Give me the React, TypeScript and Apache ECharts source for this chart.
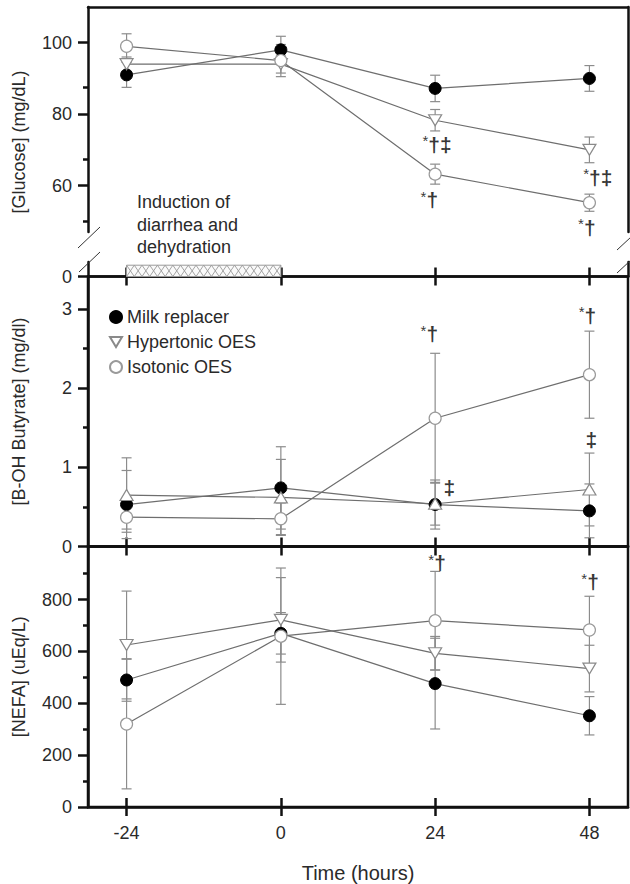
import React, { useEffect, useRef } from "react";
import * as echarts from "echarts";

// ---------- data ----------
const times = [-24, 0, 24, 48];
const groupNames = ["Milk replacer", "Hypertonic OES", "Isotonic OES"];

const glucoseMilk = [91, 98, 87.2, 90];
const glucoseMilkSE = [3.5, 3.8, 3.7, 3.6];
const glucoseHyper = [94, 94, 78.3, 70];
const glucoseHyperSE = [2, 2.5, 3, 3.6];
const glucoseIso = [99, 95, 63.2, 55.2];
const glucoseIsoSE = [3.5, 4.5, 2.8, 2.4];

const bhbMilk = [0.53, 0.74, 0.53, 0.45];
const bhbMilkSE = [0.43, 0.52, 0.31, 0.34];
const bhbHyper = [0.65, 0.62, 0.54, 0.72];
const bhbHyperSE = [0.47, 0.48, 0.27, 0.46];
const bhbIso = [0.37, 0.35, 1.62, 2.17];
const bhbIsoSE = [0.15, 0.2, 0.82, 0.55];

const nefaMilk = [490, 670, 476, 352];
const nefaMilkSE = [82, 80, 175, 74];
const nefaHyper = [625, 722, 593, 534];
const nefaHyperSE = [208, 163, 65, 90];
const nefaIso = [320, 659, 719, 683];
const nefaIsoSE = [250, 263, 190, 130];

const glucoseTicks = [60, 80, 100];
const glucoseMinor = [50, 67.5, 87.5];
const glucoseBreakTicks = [0];
const bhbTicks = [0, 1, 2, 3];
const bhbMinor = [0.5, 1.5, 2.5];
const nefaTicks = [0, 200, 400, 600, 800];
const nefaMinor = [100, 300, 500, 700, 900];

const inductionPeriod = [-24, 0];
const inductionText = "Induction of\ndiarrhea and\ndehydration";

const glucoseNotes: [number, number, string][] = [
  [24.3, 71.6, "*†‡"],
  [23.1, 56, "*†"],
  [49.3, 62.4, "*†‡"],
  [47.6, 48.3, "*†"],
];
const bhbNotes: [number, number, string][] = [
  [23.1, 2.69, "*†"],
  [26.2, 0.745, "‡"],
  [47.7, 2.92, "*†"],
  [48.3, 1.35, "‡"],
];
const nefaNotes: [number, number, string][] = [
  [24.3, 943, "*†"],
  [48.1, 869, "*†"],
];

// ---------- styles ----------
const FONT = '"Liberation Sans", Arial, Helvetica, sans-serif';
const INK = "#111";
const TXT = "#2a2a2a";
const AW = 2.5;
const X_MIN = -30;
const X_MAX = 54;
const LINE_COLOR = "#6e6e6e";
const ERR_COLOR = "#8c8c8c";

const markerStyles = [
  { symbol: "circle", size: 12, itemStyle: { color: "#000", borderColor: "#000", borderWidth: 1 } },
  { symbol: "triangle", size: [13, 11], itemStyle: { color: "#fff", borderColor: "#8a8a8a", borderWidth: 1.2 } },
  { symbol: "circle", size: 12, itemStyle: { color: "#fff", borderColor: "#9a9a9a", borderWidth: 1.2 } },
];

function errorBars(xi: number, yi: number, vals: number[], se: number[]) {
  return {
    type: "custom",
    xAxisIndex: xi,
    yAxisIndex: yi,
    z: 2,
    encode: { x: 0, y: [1, 2] },
    data: times.map((t, i) => [t, vals[i] - se[i], vals[i] + se[i]]),
    renderItem: (_p: any, api: any) => {
      const x = api.value(0);
      const lo = api.coord([x, api.value(1)]);
      const hi = api.coord([x, api.value(2)]);
      const cw = 5;
      const style = { stroke: ERR_COLOR, lineWidth: 1.2, fill: null };
      return {
        type: "group",
        children: [
          { type: "line", shape: { x1: lo[0], y1: lo[1], x2: hi[0], y2: hi[1] }, style },
          { type: "line", shape: { x1: lo[0] - cw, y1: lo[1], x2: lo[0] + cw, y2: lo[1] }, style },
          { type: "line", shape: { x1: hi[0] - cw, y1: hi[1], x2: hi[0] + cw, y2: hi[1] }, style },
        ],
      };
    },
  };
}

function lineSeries(xi: number, yi: number, g: number, vals: number[], triangleUp: boolean) {
  const m = markerStyles[g];
  return {
    type: "line",
    name: groupNames[g],
    xAxisIndex: xi,
    yAxisIndex: yi,
    z: 3,
    data: times.map((t, i) => [t, vals[i]]),
    symbol: m.symbol,
    symbolSize: m.size,
    symbolRotate: g === 1 && !triangleUp ? 180 : 0,
    showAllSymbol: true,
    lineStyle: { color: LINE_COLOR, width: 1.2 },
    itemStyle: m.itemStyle,
    emphasis: { disabled: true },
  };
}

function panel(xi: number, yi: number, vals: number[][], ses: number[][], triangleUp: boolean) {
  const out: any[] = [];
  vals.forEach((v, g) => out.push(errorBars(xi, yi, v, ses[g])));
  vals.forEach((v, g) => out.push(lineSeries(xi, yi, g, v, triangleUp)));
  return out;
}

function notes(xi: number, yi: number, data: [number, number, string][]) {
  const tok = { color: "#000", fontFamily: FONT, textBorderWidth: 0, textBorderColor: "transparent", textShadowBlur: 0 };
  return {
    type: "scatter",
    xAxisIndex: xi,
    yAxisIndex: yi,
    z: 5,
    symbolSize: 0,
    silent: true,
    itemStyle: { color: "#000" },
    data,
    label: {
      show: true,
      position: "inside",
      color: "#000",
      textBorderWidth: 0,
      textBorderColor: "transparent",
      formatter: (p: any) => {
        const t: string = p.data[2];
        return t.startsWith("*") ? `{a|*}{b|${t.slice(1)}}` : `{b|${t}}`;
      },
      rich: {
        a: { ...tok, fontSize: 15, padding: [0, 0, 7, 0] },
        b: { ...tok, fontSize: 21, fontWeight: "bold" },
      },
    },
  };
}

const baseX = {
  type: "value",
  min: X_MIN,
  max: X_MAX,
  splitLine: { show: false },
  axisLabel: { show: false },
  axisTick: { show: false },
  axisLine: { show: false, onZero: false, lineStyle: { color: INK, width: AW } },
};

function crossTicks(grid: number, withLabels: boolean) {
  const inner = {
    ...baseX,
    gridIndex: grid,
    position: "bottom",
    axisLine: { show: true, onZero: false, lineStyle: { color: INK, width: AW } },
    axisTick: { show: true, inside: true, length: 9, customValues: times, lineStyle: { color: INK, width: AW } },
  };
  const outer: any = {
    ...baseX,
    gridIndex: grid,
    position: "bottom",
    axisTick: { show: true, inside: false, length: 9, customValues: times, lineStyle: { color: INK, width: AW } },
  };
  if (withLabels) {
    outer.axisLabel = { show: true, customValues: times, margin: 17, fontSize: 18, color: TXT, fontFamily: FONT };
    outer.name = "Time (hours)";
    outer.nameLocation = "middle";
    outer.nameGap = 56;
    outer.nameTextStyle = { fontSize: 20, color: TXT, fontFamily: FONT };
  }
  return [inner, outer];
}

function yMain(grid: number, min: number, max: number, ticks: number[], name?: string) {
  const ax: any = {
    type: "value",
    gridIndex: grid,
    position: "left",
    min,
    max,
    splitLine: { show: false },
    axisLine: { show: true, onZero: false, lineStyle: { color: INK, width: AW } },
    axisTick: { show: true, inside: false, length: 10, customValues: ticks, lineStyle: { color: INK, width: AW } },
    axisLabel: { show: true, customValues: ticks, margin: 16, fontSize: 18, color: TXT, fontFamily: FONT },
  };
  if (name) {
    ax.name = name;
    ax.nameLocation = "middle";
    ax.nameGap = 60;
    ax.nameTextStyle = { fontSize: 18, color: TXT, fontFamily: FONT };
  }
  return ax;
}

function yMinor(grid: number, min: number, max: number, ticks: number[]) {
  return {
    type: "value",
    gridIndex: grid,
    position: "left",
    min,
    max,
    splitLine: { show: false },
    axisLine: { show: false, onZero: false },
    axisLabel: { show: false },
    axisTick: { show: true, inside: false, length: 5, customValues: ticks, lineStyle: { color: INK, width: AW } },
  };
}

function yRight(grid: number, min: number, max: number) {
  return {
    type: "value",
    gridIndex: grid,
    position: "right",
    min,
    max,
    splitLine: { show: false },
    axisLine: { show: true, onZero: false, lineStyle: { color: INK, width: AW } },
    axisLabel: { show: false },
    axisTick: { show: false },
  };
}

export default function App() {
  const ref = useRef<HTMLDivElement>(null);

  useEffect(() => {
    if (!ref.current) return;
    const chart = echarts.init(ref.current, null, { renderer: "svg" });

    const [x1a, x1b] = crossTicks(1, false);
    const [x2a, x2b] = crossTicks(2, false);
    const [x3a, x3b] = crossTicks(3, true);

    const hatch = {
      type: "custom",
      xAxisIndex: 1,
      yAxisIndex: 3,
      z: 1,
      silent: true,
      data: [[inductionPeriod[0], inductionPeriod[1]]],
      encode: { x: [0, 1] },
      renderItem: (_p: any, api: any) => {
        const a = api.coord([api.value(0), 0]);
        const b = api.coord([api.value(1), 0.78]);
        const x0 = a[0];
        const x1 = b[0];
        const yb = a[1];
        const yt = b[1];
        const n = 20;
        const p = (x1 - x0) / n;
        const st = { stroke: "#9a9a9a", lineWidth: 0.9, fill: null };
        const children: any[] = [
          { type: "rect", shape: { x: x0, y: yt, width: x1 - x0, height: yb - yt }, style: { fill: "#fafafa", stroke: "#9a9a9a", lineWidth: 1 } },
        ];
        for (let k = 0; k < n; k++) {
          children.push({ type: "line", shape: { x1: x0 + k * p, y1: yt, x2: x0 + (k + 1) * p, y2: yb }, style: st });
          children.push({ type: "line", shape: { x1: x0 + (k + 1) * p, y1: yt, x2: x0 + k * p, y2: yb }, style: st });
        }
        return { type: "group", children };
      },
    };

    const slash = (xa: number, ya: number, xb: number, yb: number) => ({
      type: "line",
      shape: { x1: xa, y1: ya, x2: xb, y2: yb },
      style: { stroke: "#333", lineWidth: 1 },
      z: 10,
    });

    const option: any = {
      animation: false,
      backgroundColor: "#fff",
      textStyle: { fontFamily: FONT },
      grid: [
        { left: 88, right: 2, top: 7, height: 225 },
        { left: 88, right: 2, top: 262, height: 14.5 },
        { left: 88, right: 2, top: 276.5, height: 270, show: true, borderColor: INK, borderWidth: AW },
        { left: 88, right: 2, top: 546.5, height: 270, show: true, borderColor: INK, borderWidth: AW },
      ],
      xAxis: [
        { ...baseX, gridIndex: 0, position: "top", axisLine: { show: true, onZero: false, lineStyle: { color: INK, width: AW } } },
        x1a,
        x1b,
        x2a,
        x2b,
        x3a,
        x3b,
      ],
      yAxis: [
        yMain(0, 47, 110, glucoseTicks),
        yMinor(0, 47, 110, glucoseMinor),
        yRight(0, 47, 110),
        yMain(1, 0, 1, glucoseBreakTicks),
        yRight(1, 0, 1),
        yMain(2, 0, 3.41, bhbTicks, "[B-OH Butyrate] (mg/dl)"),
        yMinor(2, 0, 3.41, bhbMinor),
        yMain(3, 0, 1005, nefaTicks, "[NEFA] (uEq/L)"),
        yMinor(3, 0, 1005, nefaMinor),
      ],
      legend: {
        orient: "vertical",
        left: 104,
        top: 302,
        itemWidth: 12,
        itemHeight: 12,
        itemGap: 5,
        selectedMode: false,
        textStyle: { fontSize: 18, color: TXT, fontFamily: FONT, lineHeight: 20 },
        data: [
          { name: "Milk replacer", icon: "circle" },
          { name: "Hypertonic OES", icon: "path://M0,0L12,0L6,10Z" },
          { name: "Isotonic OES", icon: "circle" },
        ],
      },
      graphic: [
        {
          type: "text",
          x: 19,
          y: 142,
          rotation: Math.PI / 2,
          style: { text: "[Glucose] (mg/dL)", fontSize: 18, fill: TXT, fontFamily: FONT, textAlign: "center", textVerticalAlign: "middle" },
        },
        {
          type: "text",
          left: 137,
          top: 191,
          style: { text: inductionText, fontSize: 18, lineHeight: 22.5, fill: TXT, fontFamily: FONT },
        },
        slash(78, 248, 100, 227),
        slash(79, 272, 100, 252),
        slash(617, 250, 631, 237),
        slash(617, 273, 631, 260),
      ],
      series: [
        hatch,
        ...panel(0, 0, [glucoseMilk, glucoseHyper, glucoseIso], [glucoseMilkSE, glucoseHyperSE, glucoseIsoSE], false),
        ...panel(3, 5, [bhbMilk, bhbHyper, bhbIso], [bhbMilkSE, bhbHyperSE, bhbIsoSE], true),
        ...panel(5, 7, [nefaMilk, nefaHyper, nefaIso], [nefaMilkSE, nefaHyperSE, nefaIsoSE], false),
        notes(0, 0, glucoseNotes),
        notes(3, 5, bhbNotes),
        notes(5, 7, nefaNotes),
      ],
    };

    chart.setOption(option);
    return () => chart.dispose();
  }, []);

  return (
    <div
      ref={ref}
      style={{ position: "absolute", left: 0, top: 0, width: 630, height: 884, background: "#fff" }}
    />
  );
}
